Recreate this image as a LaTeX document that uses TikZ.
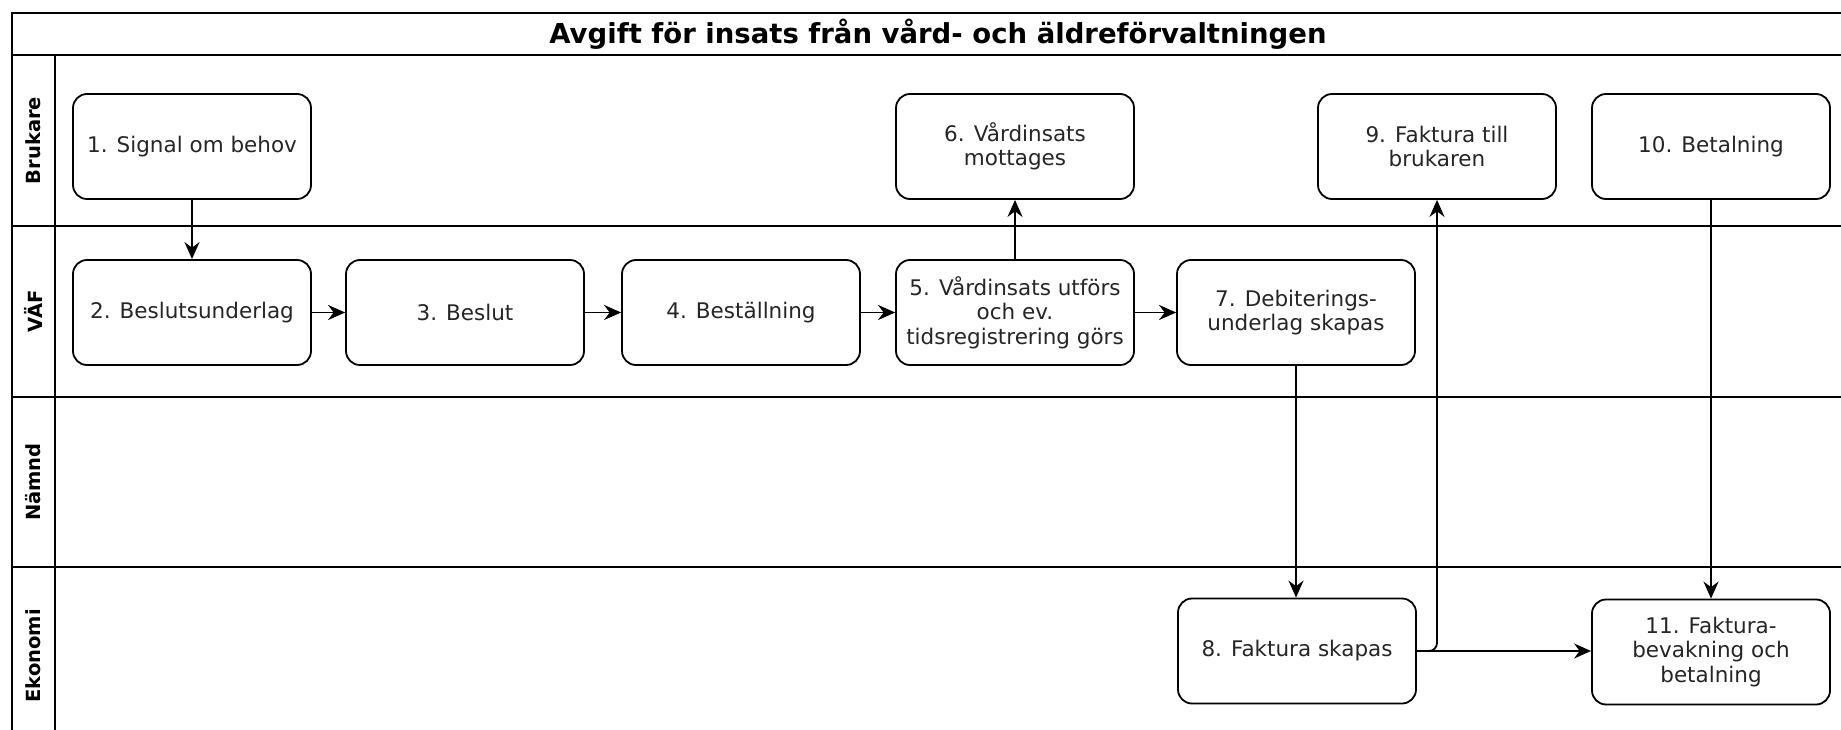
\documentclass[tikz,border=0pt]{standalone}
\usepackage{fontspec}
\setmainfont{DejaVu Sans}
\usetikzlibrary{arrows.meta}
\begin{document}
\begin{tikzpicture}[x=1pt,y=-1pt,
  stepbox/.style={draw, line width=1.8pt, rounded corners=14pt, fill=white,
    minimum width=238pt, minimum height=105pt, align=center, inner sep=2pt,
    font=\fontsize{21.5}{24.5}\selectfont, text=black!85},
  flow/.style={line width=1.8pt, -{Stealth[length=17pt,width=15pt]}},
  lane/.style={line width=2.2pt},
  lanelabel/.style={rotate=90, font=\bfseries\fontsize{19.5}{24}\selectfont},
  pooltitle/.style={font=\bfseries\fontsize{27.5}{30}\selectfont}]
\useasboundingbox (0,0) rectangle (1841,730);
\clip (0,0) rectangle (1841,730);

% pool frame, title band and swimlanes
\draw[lane] (12,13) rectangle (1864,745);
\draw[lane] (12,55) -- (1864,55);
\draw[lane] (55,55) -- (55,745);
\draw[lane] (12,226) -- (1864,226);
\draw[lane] (12,397) -- (1864,397);
\draw[lane] (12,567) -- (1864,567);

\node[pooltitle] (title) at (938,34) {Avgift för insats från vård- och äldreförvaltningen};

\node[lanelabel] (lbru) at (33.5,140.5) {Brukare};
\node[lanelabel] (lvaf) at (33.5,311.5) {VÄF};
\node[lanelabel] (lnam) at (33.5,482) {Nämnd};
\node[lanelabel] (leko) at (33.5,656) {Ekonomi};

% process steps
\node[stepbox] (n1)  at (192,146.5)  {1. Signal om behov};
\node[stepbox] (n2)  at (192,312.5)  {2. Beslutsunderlag};
\node[stepbox] (n3)  at (465,312.5)  {3. Beslut};
\node[stepbox] (n4)  at (741,312.5)  {4. Beställning};
\node[stepbox] (n5)  at (1015,312.5) {5. Vårdinsats utförs\\och ev.\\tidsregistrering görs};
\node[stepbox] (n6)  at (1015,146.5) {6. Vårdinsats\\mottages};
\node[stepbox] (n7)  at (1296,312.5) {7. Debiterings-\\underlag skapas};
\node[stepbox] (n8)  at (1297,651)   {8. Faktura skapas};
\node[stepbox] (n9)  at (1437,146.5) {9. Faktura till\\brukaren};
\node[stepbox] (n10) at (1711,146.5) {10. Betalning};
\node[stepbox] (n11) at (1711,652)   {11. Faktura-\\bevakning och\\betalning};

% connectors
\draw[flow] (n1) -- (n2);
\draw[flow] (n2) -- (n3);
\draw[flow] (n3) -- (n4);
\draw[flow] (n4) -- (n5);
\draw[flow] (n5) -- (n7);
\draw[flow] (n5) -- (n6);
\draw[flow] (n7.south) -- (n7.south |- n8.north);
\draw[flow, rounded corners=8pt] (n8.east) -| (n9.south);
\draw[flow] (n8.east) -- (n8.east -| n11.west);
\draw[flow] (n10) -- (n11);
\end{tikzpicture}
\end{document}
